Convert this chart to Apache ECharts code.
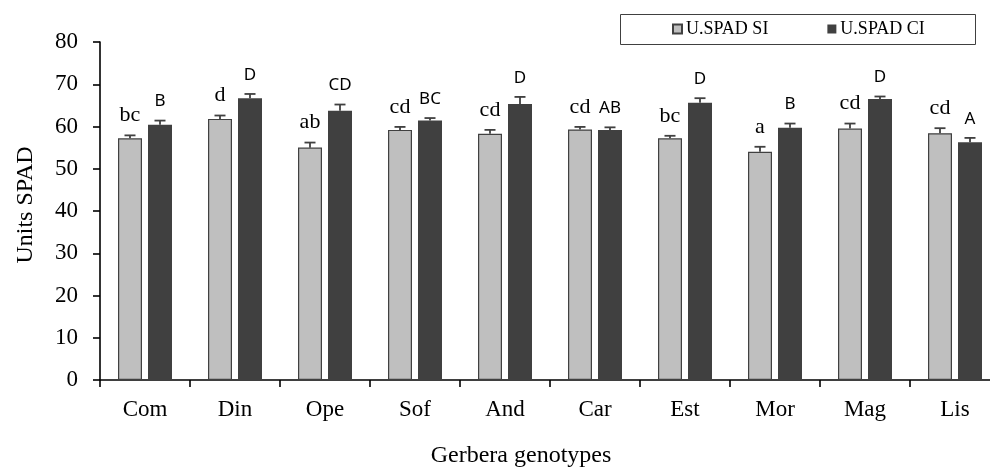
<!DOCTYPE html>
<html>
<head>
<meta charset="utf-8">
<script src="https://cdn.jsdelivr.net/npm/echarts@6/dist/echarts.min.js"></script>
<style>
  html, body { margin: 0; padding: 0; background: #fff; }
  #chart { width: 990px; height: 468px; }
</style>
</head>
<body>
<div id="chart"></div>
<script>
// data
const categories = ['Com', 'Din', 'Ope', 'Sof', 'And', 'Car', 'Est', 'Mor', 'Mag', 'Lis']
const siValues = [57.2, 61.8, 55.0, 59.2, 58.3, 59.3, 57.2, 54.0, 59.5, 58.4]
const siErrors = [0.7, 0.8, 1.2, 0.7, 0.9, 0.6, 0.6, 1.2, 1.2, 1.2]
const ciValues = [60.4, 66.7, 63.7, 61.4, 65.3, 59.2, 65.6, 59.7, 66.5, 56.3]
const ciErrors = [1.0, 1.0, 1.5, 0.6, 1.7, 0.6, 1.1, 1.0, 0.6, 1.0]
const siLetters = ['bc', 'd', 'ab', 'cd', 'cd', 'cd', 'bc', 'a', 'cd', 'cd']
const ciLetters = ['B', 'D', 'CD', 'BC', 'D', 'AB', 'D', 'B', 'D', 'A']
const yTicks = [0, 10, 20, 30, 40, 50, 60, 70, 80]

const serif = 'Liberation Serif'
const sans = 'Noto Sans'

// error bar + letter, drawn through the axis scales
const errorBars = (values, errors, letters, offset, font, fontSize, lift) => {
  return {
    type: 'custom',
    silent: true,
    z: 5,
    data: values.map((v, i) => [i, v, errors[i], letters[i]]),
    encode: { x: 0, y: 1 },
    renderItem: (params, api) => {
      const i = api.value(0)
      const val = api.value(1)
      const err = api.value(2)
      const base = api.coord([i, val])
      const top = api.coord([i, val + err])
      const x = base[0] + offset
      const lineStyle = { stroke: '#404040', lineWidth: 1.8 }
      return {
        type: 'group',
        children: [
          { type: 'line', shape: { x1: x, y1: base[1], x2: x, y2: top[1] }, style: lineStyle },
          { type: 'line', shape: { x1: x - 5.5, y1: top[1], x2: x + 5.5, y2: top[1] }, style: lineStyle },
          {
            type: 'text',
            x: x,
            y: top[1] - lift,
            style: {
              text: letters[i],
              fontFamily: font,
              fontSize: fontSize,
              fill: '#000',
              align: 'center',
              verticalAlign: 'middle'
            }
          }
        ]
      }
    }
  }
}

const chart = echarts.init(document.getElementById('chart'))

const option = {
  animation: false,
  backgroundColor: '#fff',
  grid: { left: 100, top: 42, width: 900, height: 338, outerBoundsMode: 'none' },
  legend: {
    left: 672,
    top: 20,
    padding: 0,
    itemWidth: 9,
    itemHeight: 9,
    itemGap: 59,
    icon: 'rect',
    textStyle: { fontFamily: serif, fontSize: 18, color: '#000', padding: [0, 0, 0, -1] },
    data: ['U.SPAD SI', 'U.SPAD CI']
  },
  graphic: [
    {
      type: 'rect',
      shape: { x: 620.5, y: 14.5, width: 355, height: 30 },
      style: { fill: 'none', stroke: '#404040', lineWidth: 1 }
    },
    {
      type: 'text',
      x: 521,
      y: 456,
      style: { text: 'Gerbera genotypes', fontFamily: serif, fontSize: 24, fill: '#000', align: 'center', verticalAlign: 'middle' }
    },
    {
      type: 'text',
      x: 26,
      y: 205,
      rotation: Math.PI / 2,
      style: { text: 'Units SPAD', fontFamily: serif, fontSize: 24, fill: '#000', align: 'center', verticalAlign: 'middle' }
    }
  ],
  xAxis: {
    type: 'category',
    data: categories,
    axisLine: { lineStyle: { color: '#000', width: 1.6 } },
    axisTick: { show: true, length: 7, lineStyle: { color: '#000', width: 1.6 } },
    axisLabel: { fontFamily: serif, fontSize: 23, color: '#000', margin: 18 }
  },
  yAxis: {
    type: 'value',
    min: yTicks[0],
    max: yTicks[yTicks.length - 1],
    interval: 10,
    axisLine: { show: true, lineStyle: { color: '#000', width: 1.6 } },
    axisTick: { show: true, length: 7, lineStyle: { color: '#000', width: 1.6 } },
    splitLine: { show: false },
    axisLabel: { fontFamily: serif, fontSize: 23, color: '#000', margin: 22 }
  },
  series: [
    {
      name: 'U.SPAD SI',
      type: 'bar',
      barWidth: 24,
      barGap: '25%',
      data: siValues,
      itemStyle: { color: '#bfbfbf', borderColor: '#404040', borderWidth: 1.2 }
    },
    {
      name: 'U.SPAD CI',
      type: 'bar',
      barWidth: 24,
      data: ciValues,
      itemStyle: { color: '#404040' }
    },
    errorBars(siValues, siErrors, siLetters, -15, serif, 22, 20),
    errorBars(ciValues, ciErrors, ciLetters, 15, sans, 17, 19)
  ]
}
chart.setOption(option)
</script>
</body>
</html>
